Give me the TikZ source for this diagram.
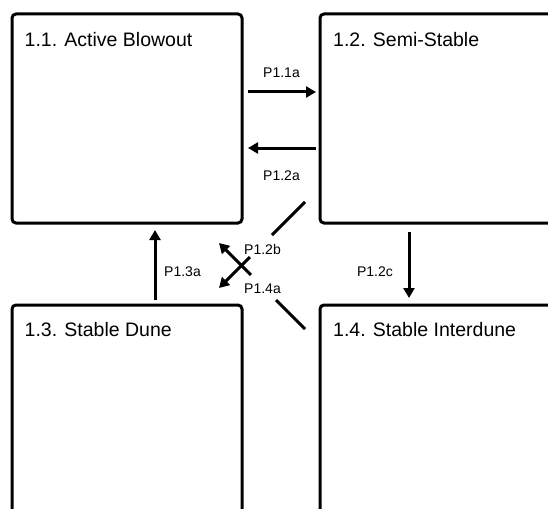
\documentclass[tikz,border=0pt]{standalone}
\usepackage{fontspec}
\setmainfont{Liberation Sans}
\usetikzlibrary{arrows.meta,calc}
\begin{document}
\begin{tikzpicture}[x=1pt,y=-1pt,
  box/.style={draw,line width=3pt,rounded corners=4pt,anchor=north west,inner sep=0pt,outer sep=0pt},
  title/.style={anchor=base west,inner sep=0pt,font=\fontsize{19.5}{23}\selectfont},
  lab/.style={inner sep=0pt,font=\fontsize{14}{16}\selectfont},
  link/.style={line width=3pt},
  arr/.style={line width=3pt,-{Triangle[length=10pt,width=11pt]}}]
\useasboundingbox (0,0) rectangle (548,508);
\clip (0,0) rectangle (548,508);
% boxes
\node[box,minimum width=230pt,minimum height=209pt] (b11) at (12,14) {};
\node[box,minimum width=250pt,minimum height=209pt] (b12) at (320,14) {};
\node[box,minimum width=230pt,minimum height=220pt] (b13) at (12,305) {};
\node[box,minimum width=250pt,minimum height=220pt] (b14) at (320,305) {};
% titles
\node[title] (t11) at (24.5,46.8) {1.1. Active Blowout};
\node[title] (t12) at (333,46.8) {1.2. Semi-Stable};
\node[title] (t13) at (24.5,336.8) {1.3. Stable Dune};
\node[title] (t14) at (333,336.8) {1.4. Stable Interdune};
% helper coordinates
\coordinate (r1) at (0,92);
\coordinate (r2) at (0,148);
\coordinate (c1) at (155,0);
\coordinate (c2) at (409,0);
% horizontal connectors
\draw[arr,shorten <=6pt,shorten >=4pt] (b11.east |- r1) -- (b12.west |- r1);
\draw[arr,shorten <=4pt,shorten >=6pt] (b12.west |- r2) -- (b11.east |- r2);
% vertical connectors
\draw[arr,shorten <=5pt,shorten >=7pt] (b13.north -| c1) -- (b11.south -| c1);
\draw[arr,shorten <=9pt,shorten >=7pt] (b12.south -| c2) -- (b14.north -| c2);
% diagonal connectors
\coordinate (d1s) at (305,202);
\coordinate (d1e) at (219,288);
\coordinate (d2s) at (305,329);
\coordinate (d2e) at (219,243);
\draw[link] (d1s) -- ($(d1s)!0.384!(d1e)$);
\draw[arr] ($(d1s)!0.64!(d1e)$) -- (d1e);
\draw[link] (d2s) -- ($(d2s)!0.337!(d2e)$);
\draw[arr] ($(d2s)!0.628!(d2e)$) -- (d2e);
% labels
\node[lab] (l11a) at (281.5,73) {P1.1a};
\node[lab] (l12a) at (281.5,176) {P1.2a};
\node[lab] (l13a) at (182.5,272) {P1.3a};
\node[lab] (l12c) at (375,272) {P1.2c};
\node[lab] (l12b) at (262.5,249) {P1.2b};
\node[lab] (l14a) at (262.5,289) {P1.4a};
\end{tikzpicture}
\end{document}
